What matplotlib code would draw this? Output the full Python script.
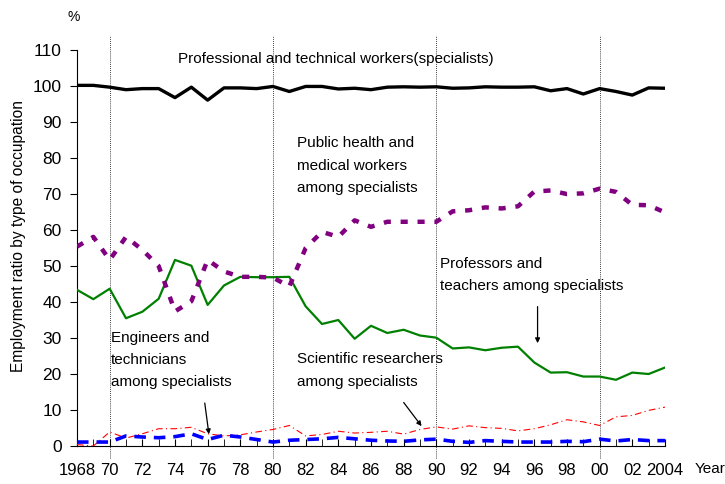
import matplotlib
matplotlib.use("Agg")
import matplotlib.pyplot as plt
from matplotlib import font_manager

# ---- font: narrow sans if available ----
names = {f.name for f in font_manager.fontManager.ttflist}
base = 'Liberation Sans Narrow' if 'Liberation Sans Narrow' in names else 'Liberation Sans'
plt.rcParams['font.family'] = [base, 'DejaVu Sans']

# ---- data ----
years = list(range(1968, 2005))

professional = [100.2, 100.2, 99.7, 99.0, 99.3, 99.3, 96.8, 99.7, 96.1, 99.5,
                99.5, 99.3, 99.9, 98.5, 99.9, 99.9, 99.2, 99.4, 99.0, 99.7,
                99.8, 99.7, 99.8, 99.4, 99.5, 99.8, 99.7, 99.7, 99.8, 98.7,
                99.3, 97.8, 99.3, 98.5, 97.5, 99.5, 99.4]
health = [55.4, 58.1, 51.7, 58.1, 54.5, 50.0, 37.4, 40.2, 51.7, 48.5,
          47.0, 47.0, 46.8, 44.3, 55.0, 59.5, 58.1, 62.7, 60.9, 62.3,
          62.3, 62.3, 62.3, 65.2, 65.5, 66.3, 66.0, 66.6, 70.7, 71.0,
          70.0, 70.2, 71.5, 70.6, 67.0, 66.9, 64.9]
teachers = [43.4, 40.8, 43.7, 35.5, 37.3, 40.9, 51.7, 50.1, 39.2, 44.6,
            47.0, 46.9, 46.9, 47.0, 38.8, 33.9, 35.0, 29.8, 33.4, 31.4,
            32.3, 30.7, 30.1, 27.1, 27.4, 26.6, 27.3, 27.6, 23.2, 20.4,
            20.5, 19.3, 19.3, 18.4, 20.4, 20.0, 21.8]
researchers = [0.4, 0.0, 3.9, 2.2, 3.4, 4.8, 4.8, 5.2, 3.4, 2.8,
               3.1, 3.9, 4.6, 5.7, 2.8, 3.2, 4.1, 3.6, 3.8, 4.1,
               3.3, 4.6, 5.3, 4.7, 5.6, 5.1, 4.9, 4.2, 4.8, 5.9,
               7.3, 6.7, 5.7, 8.1, 8.5, 9.9, 10.8]
engineers = [1.1, 1.1, 1.1, 2.8, 2.5, 2.3, 2.6, 3.4, 1.8, 3.0,
             2.5, 1.8, 1.1, 1.6, 1.8, 2.0, 2.4, 2.0, 1.6, 1.4,
             1.3, 1.7, 1.9, 1.3, 1.0, 1.5, 1.3, 1.1, 1.1, 1.1,
             1.3, 1.2, 1.9, 1.4, 1.8, 1.5, 1.5]

decades = [1970, 1980, 1990, 2000]
xtick_years = list(range(1968, 2005, 2))
xtick_labels = ['1968'] + [str(y)[2:] for y in xtick_years[1:-1]] + ['2004']

# ---- figure ----
fig = plt.figure(figsize=(7.25, 4.84), dpi=100)
ax = fig.add_axes([0.1062, 0.0785, 0.811, 0.818])

for d in decades:
    ax.plot([d, d], [-3.3, 114.2], color='black', lw=0.6, ls=(0, (1, 1.5)),
            clip_on=False, zorder=1)

ax.plot(years, teachers, color='#008000', lw=1.6, zorder=3)
ax.plot(years, health, color='#800080', lw=3.2, ls=(0, (1.6, 2.2)), zorder=3)
ax.plot(years, researchers, color='#ff0000', lw=0.8, ls=(0, (6, 3, 1, 3)), zorder=3)
ax.plot(years, engineers, color='#0000ff', lw=2.6, ls=(0, (3.2, 2.2)), zorder=3)
ax.plot(years, professional, color='black', lw=2.4, zorder=4)

ax.set_xlim(1968, 2004)
ax.set_ylim(0, 110)
ax.spines['top'].set_visible(False)
ax.spines['right'].set_visible(False)

ax.set_yticks(range(0, 111, 10))
ax.tick_params(axis='y', direction='out', length=5, labelsize=12.5, pad=6)
ax.set_xticks(years, minor=True)
ax.set_xticks(xtick_years)
ax.set_xticklabels(xtick_labels)
ax.tick_params(axis='x', which='both', direction='in', length=5, labelsize=12, pad=12)

ax.set_ylabel('Employment ratio by type of occupation', fontsize=11.2)
ax.yaxis.set_label_coords(-0.087, 0.53)
fig.text(0.093, 0.965, '%', fontsize=10, ha='left', va='center')
fig.text(0.958, 0.03, 'Year', fontsize=11, ha='left', va='center')

# ---- labels and arrows ----
fs = 11
ls = 1.75
ax.text(1974.2, 107.6, 'Professional and technical workers(specialists)', fontsize=fs, va='center')
ax.text(1981.5, 86.0, 'Public health and\nmedical workers\namong specialists',
        fontsize=fs, va='top', linespacing=ls)
ax.text(1990.2, 52.5, 'Professors and\nteachers among specialists',
        fontsize=fs, va='top', linespacing=ls)
ax.text(1970.1, 32.0, 'Engineers and\ntechnicians\namong specialists',
        fontsize=fs, va='top', linespacing=ls)
ax.text(1981.5, 26.0, 'Scientific researchers\namong specialists',
        fontsize=fs, va='top', linespacing=ls)

arrow = dict(arrowstyle='-|>', color='black', lw=0.9, mutation_scale=7)
ax.annotate('', xy=(1976.1, 2.5), xytext=(1975.8, 12.7), arrowprops=arrow)
ax.annotate('', xy=(1989.2, 4.9), xytext=(1987.9, 12.7), arrowprops=arrow)
ax.annotate('', xy=(1996.2, 27.8), xytext=(1996.2, 39.5), arrowprops=arrow)

fig.savefig('out.png', dpi=100)
